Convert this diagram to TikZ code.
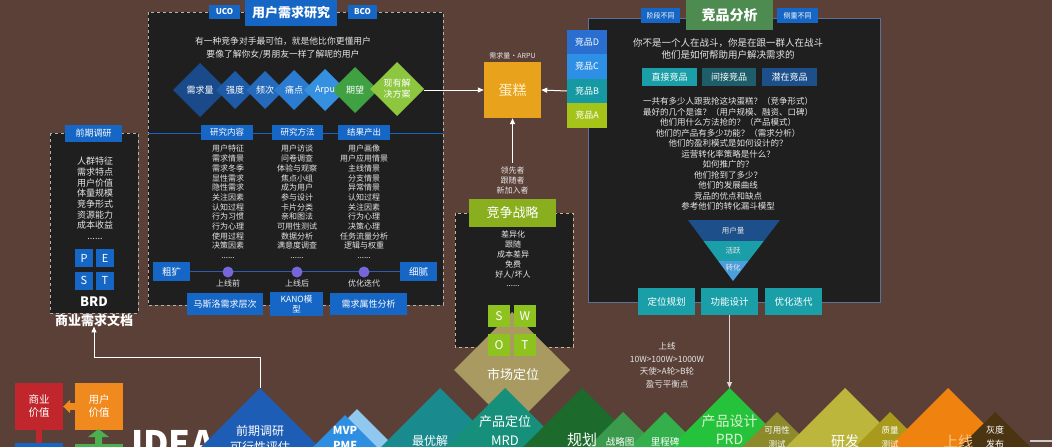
\documentclass[tikz,border=0pt]{standalone}
\usepackage{fontspec}
\setmainfont{Noto Sans CJK SC}
\usetikzlibrary{arrows.meta}
\definecolor{bg}{HTML}{5B4037}
\definecolor{panel}{HTML}{1F1F20}
\definecolor{tc}{HTML}{E6E6E6}
\definecolor{blu}{HTML}{1666C5}
\definecolor{tline}{HTML}{2A5EA8}
\definecolor{pdot}{HTML}{7566DA}
\definecolor{tealb}{HTML}{1A9FA9}
\definecolor{dteal}{HTML}{1D5E6A}
\definecolor{dblu}{HTML}{1D4F8A}
\definecolor{lblu}{HTML}{4A9FDC}
\definecolor{cake}{HTML}{E9A21C}
\definecolor{swot}{HTML}{8DC21F}
\definecolor{jz}{HTML}{8AAF1E}
\definecolor{tan}{HTML}{A99A62}
\definecolor{pborder}{HTML}{5B7199}
\definecolor{jpg}{HTML}{4E8B50}
\definecolor{sb}{HTML}{C8BB8A}
\definecolor{da}{HTML}{1B4A8A}
\definecolor{db}{HTML}{1E5BA6}
\definecolor{dc}{HTML}{2469BA}
\definecolor{dd}{HTML}{2B7BD0}
\definecolor{de}{HTML}{3690E0}
\definecolor{df}{HTML}{3FA142}
\definecolor{dg}{HTML}{8DC63F}
\definecolor{jD}{HTML}{2A6ED0}
\definecolor{jC}{HTML}{2D8FE5}
\definecolor{jB}{HTML}{1699A3}
\definecolor{jA}{HTML}{A5C41A}
\definecolor{redv}{HTML}{C1262C}
\definecolor{orgv}{HTML}{F08A1E}
\definecolor{grnv}{HTML}{4CAF50}
\definecolor{ba}{HTML}{1D5DB5}
\definecolor{bb}{HTML}{90C8F0}
\definecolor{bc}{HTML}{2E8EE2}
\definecolor{bdd}{HTML}{198A8E}
\definecolor{be}{HTML}{16907A}
\definecolor{bf}{HTML}{1D6B2C}
\definecolor{bgg}{HTML}{3C9A4C}
\definecolor{bh}{HTML}{33B04C}
\definecolor{bi}{HTML}{25C23C}
\definecolor{bj}{HTML}{8D8A2C}
\definecolor{bk}{HTML}{BDB63C}
\definecolor{bl}{HTML}{A99A1E}
\definecolor{bm}{HTML}{F0820F}
\definecolor{bn}{HTML}{4A3412}
\definecolor{prdt}{HTML}{DDF5D0}
\definecolor{sxt}{HTML}{F8C68A}
\definecolor{caket}{HTML}{FFF2CC}
\newcommand\mydm[4]{\fill[#4] (#1,#2-#3) -- (#1+#3,#2) -- (#1,#2+#3) -- (#1-#3,#2) -- cycle;}
\newcommand\mybd[3]{\fill[#3] (#1,#2) -- ++(90,90) -- ++(-90,90) -- ++(-90,-90) -- cycle;}
\begin{document}
\begin{tikzpicture}[x=1pt,y=-1pt,
  t/.style={text=tc,inner sep=0,align=center,font=\fontsize{8}{9.7}\selectfont},
  bx/.style={inner sep=0,text=white,align=center,font=\fontsize{9}{11}\selectfont},
  arr/.style={draw=white,line width=1pt,-{Triangle[length=6pt,width=5pt]}},
  dl/.style={text=white,inner sep=0,align=center}]
\useasboundingbox (0,0) rectangle (1052,447);
\clip (0,0) rectangle (1052,447);
\fill[bg] (0,0) rectangle (1052,447);

% ===== top-left panel: user research
\filldraw[fill=panel,draw=gray!60,dashed,line width=0.8pt] (148,12) rectangle (443,305);
\node[bx,fill=blu,minimum width=31,minimum height=14,font=\bfseries\fontsize{8}{9}\selectfont] (uco) at (224.5,11.5) {UCO};
\node[bx,fill=blu,minimum width=92,minimum height=26,font=\bfseries\fontsize{13}{14}\selectfont] (ur) at (291,13) {用户需求研究};
\node[bx,fill=blu,minimum width=29,minimum height=14,font=\bfseries\fontsize{8}{9}\selectfont] (bco) at (362.5,11.5) {BCO};
\node[t,font=\fontsize{8.8}{13}\selectfont] (quote) at (283,48.5) {有一种竞争对手最可怕，就是他比你更懂用户\\要像了解你女/男朋友一样了解呢的用户};

\mydm{200}{90}{27}{da}
\mydm{235}{90}{19}{db}
\mydm{265}{90}{19}{dc}
\mydm{294}{90}{20}{dd}
\mydm{325}{90}{21}{de}
\mydm{355}{90}{23}{df}
\mydm{397}{89}{27}{dg}
\node[dl,font=\fontsize{9}{10}\selectfont] (d1) at (200,90) {需求量};
\node[dl,font=\fontsize{9}{10}\selectfont] (d2) at (235,90) {强度};
\node[dl,font=\fontsize{9}{10}\selectfont] (d3) at (265,90) {频次};
\node[dl,font=\fontsize{9}{10}\selectfont] (d4) at (294,90) {痛点};
\node[dl,font=\fontsize{9}{10}\selectfont] (d5) at (325,90) {Arpu};
\node[dl,font=\fontsize{9}{10}\selectfont] (d6) at (355,90) {期望};
\node[dl,font=\fontsize{9}{11}\selectfont] (d7) at (397,89) {现有解\\决方案};
\coordinate (d7r) at (424,90);

\draw[blu,line width=1pt] (148,133) -- (443,133);
\node[bx,fill=blu,minimum width=52,minimum height=15,font=\fontsize{8.5}{9}\selectfont] (h1) at (227,132.5) {研究内容};
\node[bx,fill=blu,minimum width=51,minimum height=15,font=\fontsize{8.5}{9}\selectfont] (h2) at (297.5,132.5) {研究方法};
\node[bx,fill=blu,minimum width=52,minimum height=15,font=\fontsize{8.5}{9}\selectfont] (h3) at (364,132.5) {结果产出};

\node[t,anchor=north] (c1) at (228,145) {用户特征\\需求情景\\需求冬季\\显性需求\\隐性需求\\关注因素\\认知过程\\行为习惯\\行为心理\\使用过程\\决策因素\\......};
\node[t,anchor=north] (c2) at (297,145) {用户访谈\\问卷调查\\体验与观察\\焦点小组\\成为用户\\参与设计\\卡片分类\\亲和图法\\可用性测试\\数据分析\\满意度调查\\......};
\node[t,anchor=north] (c3) at (364,145) {用户画像\\用户应用情景\\主线情景\\分支情景\\异常情景\\认知过程\\关注因素\\行为心理\\决策心理\\任务流量分析\\逻辑与权重\\......};

\node[bx,fill=blu,minimum width=37,minimum height=19,font=\fontsize{9.5}{10}\selectfont] (cg) at (171.5,271.5) {粗犷};
\node[bx,fill=blu,minimum width=37,minimum height=19,font=\fontsize{9.5}{10}\selectfont] (xn) at (418.5,271.5) {细腻};
\draw[tline,line width=1pt] (cg.east) -- (xn.west);
\fill[pdot] (228,272) circle (5.5);
\fill[pdot] (297,272) circle (5.5);
\fill[pdot] (364,272) circle (5.5);
\node[t] (l1) at (228,283) {上线前};
\node[t] (l2) at (297,283) {上线后};
\node[t] (l3) at (364,283) {优化迭代};

\node[bx,fill=blu,minimum width=76,minimum height=22,font=\fontsize{9}{10}\selectfont] (m1) at (225,304) {马斯洛需求层次};
\node[bx,fill=blu,minimum width=53,minimum height=24,font=\fontsize{8.5}{9.5}\selectfont] (m2) at (296.5,304) {KANO模\\型};
\node[bx,fill=blu,minimum width=77,minimum height=22,font=\fontsize{9}{10}\selectfont] (m3) at (368.5,304) {需求属性分析};

% ===== left panel
\filldraw[fill=panel,draw=gray!60,dashed,line width=0.8pt] (50,133) rectangle (138,313);
\node[bx,fill=blu,minimum width=57,minimum height=17,font=\fontsize{9}{10}\selectfont] (qq) at (93.5,133.5) {前期调研};
\node[t,anchor=north,font=\fontsize{9}{10.7}\selectfont] (qlist) at (95,157) {人群特征\\需求特点\\用户价值\\体量规模\\竞争形式\\资源能力\\成本收益\\......};
\node[bx,fill=blu,minimum width=18,minimum height=18,font=\fontsize{11}{12}\selectfont] (pp) at (84,258) {P};
\node[bx,fill=blu,minimum width=18,minimum height=18,font=\fontsize{11}{12}\selectfont] (pe) at (105,258) {E};
\node[bx,fill=blu,minimum width=18,minimum height=18,font=\fontsize{11}{12}\selectfont] (ps) at (84,280.5) {S};
\node[bx,fill=blu,minimum width=18,minimum height=18,font=\fontsize{11}{12}\selectfont] (pt) at (105,280.5) {T};
\node[dl,font=\bfseries\fontsize{13}{14}\selectfont] (brd1) at (94,302) {BRD};
\node[dl,font=\bfseries\fontsize{13}{14}\selectfont] (brd2) at (94,320) {商业需求文档};

% ===== center: cake and strategy
\node[bx,fill=cake,minimum width=57,minimum height=56,text=caket,font=\fontsize{14}{15}\selectfont] (cake) at (512.5,90) {蛋糕};
\node[t,font=\fontsize{7}{8}\selectfont] (arpu) at (512.5,56) {需求量·ARPU};
\node[t,font=\fontsize{8}{10}\selectfont] (lead) at (512.5,180) {领先者\\跟随者\\新加入者};
\draw[arr] (d7r) -- (cake.west);
\draw[arr] ([yshift=3pt]lead.north) -- (cake.south);

\filldraw[fill=panel,draw=sb,dashed,line width=0.8pt] (455,213) rectangle (573,347);
\node[bx,fill=jz,minimum width=87,minimum height=28,font=\fontsize{13}{14}\selectfont] (jzzl) at (512.5,213) {竞争战略};
\node[t,anchor=north,font=\fontsize{8}{9.8}\selectfont] (slist) at (513,231) {差异化\\跟随\\成本差异\\免费\\好人/坏人\\......};

\mydm{512}{370}{58}{tan}
\node[bx,fill=swot,minimum width=22,minimum height=22,font=\fontsize{12}{13}\selectfont] (sw1) at (499,316) {S};
\node[bx,fill=swot,minimum width=22,minimum height=22,font=\fontsize{12}{13}\selectfont] (sw2) at (525,316) {W};
\node[bx,fill=swot,minimum width=22,minimum height=22,font=\fontsize{12}{13}\selectfont] (sw3) at (499,345) {O};
\node[bx,fill=swot,minimum width=22,minimum height=22,font=\fontsize{12}{13}\selectfont] (sw4) at (525,345) {T};

% ===== right panel: competitor analysis
\filldraw[fill=panel,draw=pborder,line width=1pt] (588,18) rectangle (880,302);
\node[bx,fill=jpg,minimum width=87,minimum height=30,font=\bfseries\fontsize{14}{15}\selectfont] (jp) at (729.5,15) {竞品分析};
\node[bx,fill=blu,minimum width=39,minimum height=15,font=\fontsize{7}{8}\selectfont] (jd) at (660.5,15.5) {阶段不同};
\node[bx,fill=blu,minimum width=41,minimum height=15,font=\fontsize{7}{8}\selectfont] (cz) at (797.5,15.5) {侧重不同};
\node[bx,fill=jD,minimum width=40,minimum height=24.5] (jpD) at (587,42) {竞品D};
\node[bx,fill=jC,minimum width=40,minimum height=24.5] (jpC) at (587,66.5) {竞品C};
\node[bx,fill=jB,minimum width=40,minimum height=24.5] (jpB) at (587,91) {竞品B};
\node[bx,fill=jA,minimum width=40,minimum height=24.5] (jpA) at (587,115.5) {竞品A};
\draw[arr] (jpB.west) -- (cake.east);

\node[t,font=\fontsize{9.5}{12.5}\selectfont] (jq) at (728,49) {你不是一个人在战斗，你是在跟一群人在战斗\\他们是如何帮助用户解决需求的};
\node[bx,fill=tealb,minimum width=55,minimum height=18] (zj) at (669.5,77) {直接竞品};
\node[bx,fill=dteal,minimum width=54,minimum height=18] (jj) at (729,77) {间接竞品};
\node[bx,fill=dblu,minimum width=55,minimum height=18] (qz) at (789.5,77) {潜在竞品};
\node[t,anchor=north,font=\fontsize{8.5}{10.5}\selectfont] (qlist2) at (728,97.5) {一共有多少人跟我抢这块蛋糕？（竞争形式）\\最好的几个是谁？（用户规模、融资、口碑）\\他们用什么方法抢的？（产品模式）\\他们的产品有多少功能？（需求分析）\\他们的盈利模式是如何设计的？\\运营转化率策略是什么？\\如何推广的？\\他们抢到了多少？\\他们的发展曲线\\竞品的优点和缺点\\参考他们的转化漏斗模型};

\begin{scope}
\clip (688,220) -- (780,220) -- (733,281) -- cycle;
\fill[dblu] (680,215) rectangle (790,241);
\fill[tealb] (680,241) rectangle (790,261);
\fill[lblu] (680,261) rectangle (790,285);
\end{scope}
\node[t,font=\fontsize{7.5}{8}\selectfont] (f1) at (733,231) {用户量};
\node[t,font=\fontsize{7.5}{8}\selectfont] (f2) at (733,250.5) {活跃};
\node[t,font=\fontsize{7.5}{8}\selectfont] (f3) at (733,268) {转化};

\node[bx,fill=tealb,minimum width=57,minimum height=27,font=\fontsize{9.5}{10}\selectfont] (dw) at (666.5,301.5) {定位规划};
\node[bx,fill=tealb,minimum width=57,minimum height=27,font=\fontsize{9.5}{10}\selectfont] (gn) at (729.5,301.5) {功能设计};
\node[bx,fill=tealb,minimum width=57,minimum height=27,font=\fontsize{9.5}{10}\selectfont] (yh) at (793.5,301.5) {优化迭代};
\node[t,font=\fontsize{8.5}{12.5}\selectfont] (sxtx) at (667,365.5) {上线\\10W>100W>1000W\\天使>A轮>B轮\\盈亏平衡点};

% ===== bottom strip
\node[bx,fill=redv,minimum width=48,minimum height=47,font=\fontsize{10.5}{13}\selectfont] (syjz) at (39,406.5) {商业\\价值};
\node[bx,fill=orgv,minimum width=48,minimum height=47,font=\fontsize{10.5}{13}\selectfont] (yhjz) at (99,406.5) {用户\\价值};
\draw[draw=orgv,line width=7pt,-{Triangle[length=7pt,width=13pt]}] (yhjz.west) -- (syjz.east);
\fill[redv] (36,430) rectangle (42,444);
\fill[blu] (15,443) rectangle (63,450);
\fill[grnv] (75,444) rectangle (123,450);
\fill[grnv] (95,447) -- (95,437) -- (88,437) -- (98.5,429) -- (109,437) -- (102,437) -- (102,447) -- cycle;
\node[dl,anchor=base west,font=\bfseries\fontsize{35}{36}\selectfont] (idea) at (131,456) {IDEA};

\coordinate (qdt) at (260,388);
\mybd{260}{388}{ba}
\mybd{357}{409}{bb}
\mybd{345}{415}{bc}
\mybd{440}{388}{bdd}
\mybd{505}{388}{be}
\mybd{582}{388}{bf}
\mybd{623}{412}{bgg}
\mybd{665}{412}{bh}
\coordinate (prdtop) at (729.5,388);
\mybd{729.5}{388}{bi}
\mybd{777}{412}{bj}
\mybd{845}{388}{bk}
\mybd{890}{412}{bl}
\mybd{948}{388}{bm}
\mybd{995}{412}{bn}

\node[dl,font=\fontsize{13}{15}\selectfont] (scdw) at (513,375) {市场定位};

\node[dl,anchor=north,font=\fontsize{12}{16}\selectfont] (qdl) at (260,425) {前期调研\\可行性评估};
\node[dl,anchor=north,font=\bfseries\fontsize{11}{15}\selectfont] (mvp) at (345,426) {MVP\\PMF};
\node[dl,font=\fontsize{12}{13}\selectfont] (yyj) at (430,441) {最优解};
\node[dl,anchor=north,font=\fontsize{13}{19}\selectfont] (mrd) at (505,415) {产品定位\\MRD};
\node[dl,font=\fontsize{15}{16}\selectfont] (gh) at (582,440) {规划};
\node[dl,font=\fontsize{9.5}{10}\selectfont] (zlt) at (620,442) {战略图};
\node[dl,font=\fontsize{9.5}{10}\selectfont] (lcb) at (665,442) {里程碑};
\node[dl,anchor=north,text=prdt,font=\fontsize{14}{18}\selectfont] (prd) at (729.5,415) {产品设计\\PRD};
\node[dl,anchor=north,font=\fontsize{8.5}{14}\selectfont] (kyx) at (777,426) {可用性\\测试};
\node[dl,font=\fontsize{14}{15}\selectfont] (yf) at (845,441) {研发};
\node[dl,anchor=north,font=\fontsize{8.5}{14}\selectfont] (zl) at (890,426) {质量\\测试};
\node[dl,text=sxt,font=\fontsize{15}{16}\selectfont] (sx) at (958,442) {上线};
\node[dl,anchor=north,font=\fontsize{9}{14}\selectfont] (hd) at (995,426) {灰度\\发布};
\coordinate (endl) at (1030,441);
\coordinate (endr) at (1052,441);
\draw[gray!40,line width=1.5pt] (endl) -- (endr);

\draw[arr] (qdt) -- ++(0,-31) -| (brd2.south);
\draw[arr,draw=gray!30] (gn.south) -- (prdtop);
\end{tikzpicture}
\end{document}
